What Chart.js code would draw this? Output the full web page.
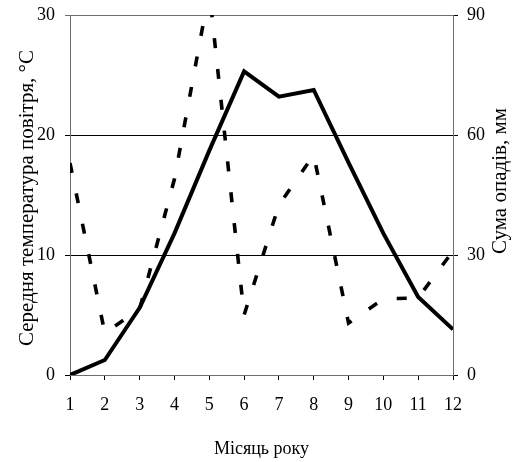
<!DOCTYPE html>
<html lang="uk">
<head>
    <meta charset="UTF-8">
    <title>Температура і опади</title>
    <script src="https://cdn.jsdelivr.net/npm/chart.js"></script>
    <style>
        html, body { margin: 0; padding: 0; background: #fff; }
        #wrap { width: 521px; height: 462px; }
    </style>
</head>
<body>
<div id="wrap"><canvas id="chart"></canvas></div>

<script>
    const months = ["1", "2", "3", "4", "5", "6", "7", "8", "9", "10", "11", "12"];
    // середня температура, °С
    const temperature = [0, 1.25, 5.6, 11.8, 18.7, 25.3, 23.2, 23.75, 17.7, 11.8, 6.5, 3.8];
    // сума опадів, мм
    const precipitation = [53, 10.5, 16.5, 49, 96, 15, 42.5, 55, 13, 19, 19.3, 31];
    const tempTicks = [0, 10, 20, 30];
    const rainTicks = [0, 30, 60, 90];

    const FONT = '"Liberation Serif", "Times New Roman", serif';
    const titleLeft = "Середня температура повітря, °С";
    const titleRight = "Сума опадів, мм";

    // підписи вертикальних осей, обидва читаються знизу вгору
    const sideTitles = {
        id: "sideTitles",
        afterDraw(chart) {
            const { ctx, chartArea } = chart;
            const midY = (chartArea.top + chartArea.bottom) / 2;
            const put = (text, x, y) => {
                ctx.save();
                ctx.fillStyle = "#000";
                ctx.textAlign = "center";
                ctx.textBaseline = "middle";
                ctx.font = "21px " + FONT;
                ctx.translate(x, y);
                ctx.rotate(-Math.PI / 2);
                ctx.fillText(text, 0, 0);
                ctx.restore();
            };
            put(titleLeft, chart.scales.y.left + 27, midY + 3);
            put(titleRight, chart.scales.y1.right - 21, midY - 14);
        }
    };

    // без зайвого відступу над верхньою позначкою
    const noEdgePad = s => { s.paddingTop = 0; s.paddingBottom = 0; };

    const axisGrey = "#6e6e6e";

    new Chart(document.getElementById("chart").getContext("2d"), {
        type: "line",
        data: {
            labels: months,
            datasets: [{
                label: "Температура",
                data: temperature,
                yAxisID: "y",
                borderColor: "#000",
                borderWidth: 4,
                borderJoinStyle: "miter",
                pointRadius: 0,
                tension: 0,
                clip: 0
            }, {
                label: "Опади",
                data: precipitation,
                yAxisID: "y1",
                borderColor: "#000",
                borderWidth: 3.6,
                borderDash: [10, 21],
                borderCapStyle: "butt",
                pointRadius: 0,
                tension: 0,
                clip: 0
            }]
        },
        options: {
            responsive: true,
            maintainAspectRatio: false,
            animation: false,
            layout: { padding: { top: 15, left: 0, right: 0, bottom: 0 } },
            plugins: {
                legend: { display: false },
                tooltip: { enabled: false }
            },
            scales: {
                x: {
                    type: "category",
                    offset: false,
                    afterFit: s => { s.height = 87; },
                    grid: { drawOnChartArea: false, drawTicks: true, tickLength: 5, color: "#000" },
                    border: { color: axisGrey },
                    ticks: { color: "#000", font: { family: FONT, size: 18 }, padding: 14, maxRotation: 0, autoSkip: false },
                    title: { display: true, text: "Місяць року", color: "#000", font: { family: FONT, size: 18 }, padding: { top: 0, bottom: 2 } }
                },
                y: {
                    position: "left",
                    min: tempTicks[0],
                    max: tempTicks[tempTicks.length - 1],
                    afterBuildTicks: s => { s.ticks = tempTicks.map(v => ({ value: v })); },
                    afterFit: s => { s.width = 70; noEdgePad(s); },
                    grid: {
                        color: ctx => ctx.tick && ctx.tick.value === 30 ? axisGrey : "#000",
                        tickLength: 5
                    },
                    border: { color: axisGrey },
                    ticks: { color: "#000", font: { family: FONT, size: 18 }, padding: 10 }
                },
                y1: {
                    position: "right",
                    min: rainTicks[0],
                    max: rainTicks[rainTicks.length - 1],
                    afterBuildTicks: s => { s.ticks = rainTicks.map(v => ({ value: v })); },
                    afterFit: s => { s.width = 68; noEdgePad(s); },
                    grid: { drawOnChartArea: false, tickLength: 5, color: "#000" },
                    border: { color: axisGrey },
                    ticks: { color: "#000", font: { family: FONT, size: 18 }, padding: 9 }
                }
            }
        },
        plugins: [sideTitles]
    });
</script>
</body>
</html>
